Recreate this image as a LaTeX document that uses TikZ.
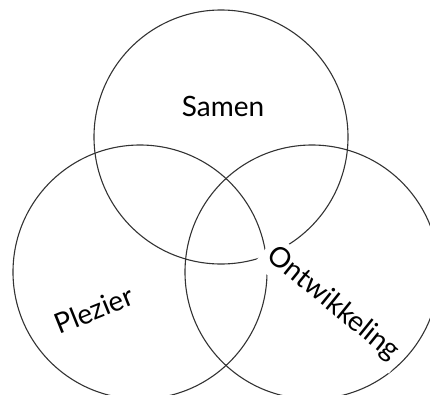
\documentclass[tikz,border=0pt]{standalone}
\usepackage{fontspec}
\setmainfont{Lato}
\begin{document}
\begin{tikzpicture}[x=1pt,y=-1pt,
  ring/.style={draw=black!80,line width=1.1pt},
  lbl/.style={font=\fontsize{28}{32}\selectfont,text=black}]
\useasboundingbox (0,0) rectangle (430,394);
\begin{scope}
\clip (0,0) rectangle (430,394);
\node[ring,circle,minimum size=254pt,inner sep=0pt] (top) at (221,137) {};
\node[ring,circle,minimum size=254pt,inner sep=0pt] (left) at (140,272) {};
\node[ring,circle,minimum size=254pt,inner sep=0pt] (right) at (312,272) {};
\end{scope}
\node[lbl] (samen) at (223,106) {Samen};
\node[lbl,rotate=22,fill=white,inner sep=2pt] (plezier) at (94,310) {Plezier};
\node[lbl,rotate=-39,fill=white,inner sep=6pt] (ontw) at (333,304) {Ontwikkeling};
\end{tikzpicture}
\end{document}
